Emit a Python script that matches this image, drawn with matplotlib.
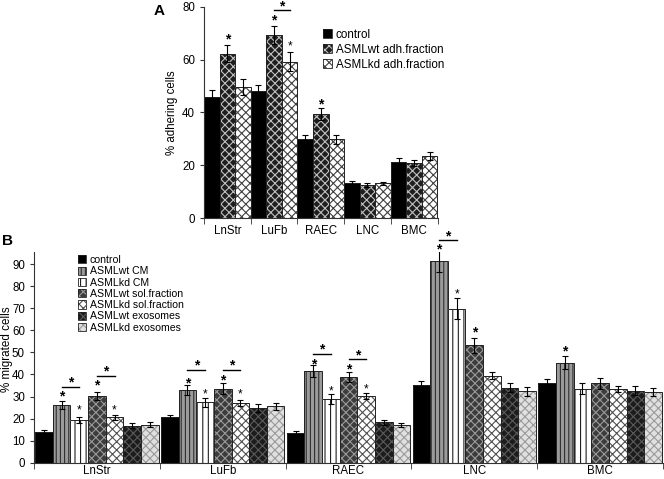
import matplotlib
matplotlib.use("Agg")
import matplotlib.pyplot as plt
import matplotlib.patches as mpatches
import numpy as np

plt.rcParams['font.family'] = ['Liberation Sans', 'DejaVu Sans']
plt.rcParams['hatch.linewidth'] = 0.8

# ---- panel A data
cells = ["LnStr", "LuFb", "RAEC", "LNC", "BMC"]
a_names = ["control", "ASMLwt adh.fraction", "ASMLkd adh.fraction"]
a_vals = [
    [46.0, 48.1, 30.0, 13.2, 21.4],
    [62.3, 69.3, 39.4, 12.6, 20.8],
    [49.7, 59.2, 29.8, 13.2, 23.5],
]
a_err = [
    [2.4, 2.3, 1.4, 0.9, 1.3],
    [3.2, 3.4, 2.2, 0.9, 1.2],
    [3.0, 3.5, 1.6, 0.7, 1.5],
]
# (group, series, y of star, big?)
a_stars = [(0, 1, 69.0, True), (1, 1, 76.4, True), (1, 2, 66.3, False), (2, 1, 44.4, True)]
# (group, series from, series to, y line, y star)
a_brackets = [(1, 1, 2, 78.6, 81.6)]

# ---- panel B data
b_names = ["control", "ASMLwt CM", "ASMLkd CM", "ASMLwt sol.fraction",
           "ASMLkd sol.fraction", "ASMLwt exosomes", "ASMLkd exosomes"]
b_vals = [
    [13.8, 20.6, 13.6, 35.0, 36.0],
    [26.1, 32.9, 41.7, 91.2, 45.3],
    [19.2, 27.4, 28.9, 69.8, 33.6],
    [30.2, 33.5, 38.8, 53.2, 35.9],
    [20.5, 27.0, 30.3, 39.5, 33.3],
    [16.8, 24.8, 18.3, 33.9, 32.7],
    [17.3, 25.6, 17.0, 32.4, 32.1],
]
b_err = [
    [0.9, 1.0, 0.6, 1.8, 1.9],
    [1.8, 2.2, 2.7, 5.0, 2.9],
    [1.4, 2.0, 2.2, 4.8, 2.4],
    [1.9, 2.4, 2.3, 3.5, 2.4],
    [1.2, 1.5, 1.4, 1.7, 1.4],
    [1.1, 1.7, 1.0, 2.0, 2.0],
    [1.1, 1.5, 0.9, 2.0, 1.8],
]
b_stars = [
    (0, 1, 31.8, True), (0, 2, 25.3, False), (0, 3, 36.8, True), (0, 4, 25.3, False),
    (1, 1, 37.6, True), (1, 2, 32.6, False), (1, 3, 39.1, True), (1, 4, 32.6, False),
    (2, 1, 46.4, True), (2, 2, 34.2, False), (2, 3, 44.0, True), (2, 4, 35.0, False),
    (3, 1, 98.5, True), (3, 2, 78.0, False), (3, 3, 61.0, True),
    (4, 1, 52.3, True),
]
b_brackets = [
    (0, 1, 2, 34.5, 38.2), (0, 3, 4, 39.5, 43.3),
    (1, 1, 2, 41.8, 45.8), (1, 3, 4, 41.8, 45.8),
    (2, 1, 2, 49.2, 53.0), (2, 3, 4, 46.8, 50.6),
    (3, 1, 2, 101.0, 104.5),
]

# styles: (face, hatch, hatch colour)
a_styles = [("black", "", "black"), ("#1e1e1e", "xxxx", "#c0c0c0"), ("white", "xxxx", "#404040")]
b_styles = [
    ("black", "", "black"),
    ("#9a9a9a", "||||", "#303030"),
    ("white", "|||", "#202020"),
    ("#3c3c3c", "xxxx", "#9a9a9a"),
    ("white", "xxxx", "#505050"),
    ("#1c1c1c", "xxxx", "#5a5a5a"),
    ("#e0e0e0", "xxxx", "#9a9a9a"),
]


def draw_bars(ax, vals, errs, styles, width):
    n = len(vals)
    handles = []
    for i in range(n):
        x = np.arange(len(vals[i])) + (i - (n - 1) / 2) * width
        face, hatch, hc = styles[i]
        ax.bar(x, vals[i], width, color=face, hatch=hatch, edgecolor=hc, linewidth=0)
        ax.bar(x, vals[i], width, fill=False, edgecolor="#222222", linewidth=0.7)
        ax.errorbar(x, vals[i], yerr=errs[i], fmt="none", ecolor="black",
                    elinewidth=0.8, capsize=2.2, capthick=0.8)
        h1 = mpatches.Patch(facecolor=face, hatch=hatch, edgecolor=hc, linewidth=0)
        h2 = mpatches.Patch(fill=False, edgecolor="#222222", linewidth=0.6)
        handles.append((h1, h2))
    return handles


def star(ax, x, y, big):
    fs = 10 if big else 8.5
    ax.annotate("*", xy=(x, y), xytext=(0, -0.58 * fs), textcoords="offset points",
                ha="center", va="baseline", fontsize=fs,
                fontweight="bold" if big else "normal", annotation_clip=False)


def marks(ax, stars, brackets, n, width):
    pos = lambda g, s: g + (s - (n - 1) / 2) * width
    for g, s, y, big in stars:
        star(ax, pos(g, s), y, big)
    for g, s1, s2, yl, ys in brackets:
        ax.plot([pos(g, s1), pos(g, s2)], [yl, yl], color="black", lw=1, clip_on=False)
        star(ax, (pos(g, s1) + pos(g, s2)) / 2, ys, True)


def style_axis(ax, ngroups, pad):
    for s in ["top", "right"]:
        ax.spines[s].set_visible(False)
    ax.spines["left"].set_color("#333333")
    ax.spines["bottom"].set_color("#333333")
    ax.set_xlim(-0.5, ngroups - 0.5)
    ax.set_xticks(range(ngroups))
    ax.set_xticklabels(cells, fontsize=8.3)
    ax.tick_params(axis="x", length=0, pad=pad)
    ax.set_xticks(np.arange(-0.5, ngroups, 1.0), minor=True)
    ax.tick_params(axis="x", which="minor", length=4, color="#333333")
    ax.tick_params(axis="y", labelsize=8.3, length=3, color="#333333")


fig = plt.figure(figsize=(6.64, 4.79), dpi=100)

# panel A
axA = fig.add_axes([0.3072, 0.5443, 0.3517, 0.4417])
wA = 0.333
hA = draw_bars(axA, a_vals, a_err, a_styles, wA)
marks(axA, a_stars, a_brackets, 3, wA)
style_axis(axA, 5, 5)
axA.set_ylim(0, 80)
axA.set_yticks([0, 20, 40, 60, 80])
axA.set_ylabel("% adhering cells", fontsize=8.3)
axA.yaxis.set_label_coords(-0.11, 0.5)
axA.legend(hA, a_names, loc="upper left", bbox_to_anchor=(0.51, 0.895), frameon=False,
           fontsize=8.4, handlelength=0.8, handleheight=0.8, handletextpad=0.3,
           labelspacing=0.25, borderpad=0, borderaxespad=0)
fig.text(0.232, 0.978, "A", fontsize=11, fontweight="bold", va="center", ha="left")

# panel B
axB = fig.add_axes([0.0512, 0.034, 0.9473, 0.44])
wB = 0.14
hB = draw_bars(axB, b_vals, b_err, b_styles, wB)
marks(axB, b_stars, b_brackets, 7, wB)
style_axis(axB, 5, 1.5)
axB.set_ylim(0, 95.5)
axB.set_yticks(range(0, 100, 10))
axB.set_ylabel("% migrated cells", fontsize=8.4, labelpad=0)
axB.yaxis.set_label_coords(-0.034, 0.54)
axB.legend(hB, b_names, loc="upper left", bbox_to_anchor=(0.07, 0.985), frameon=False,
           fontsize=7.6, handlelength=0.8, handleheight=0.8, handletextpad=0.3,
           labelspacing=0.12, borderpad=0, borderaxespad=0)
fig.text(0.003, 0.497, "B", fontsize=11, fontweight="bold", va="center", ha="left")

fig.savefig("out.png", dpi=100)
